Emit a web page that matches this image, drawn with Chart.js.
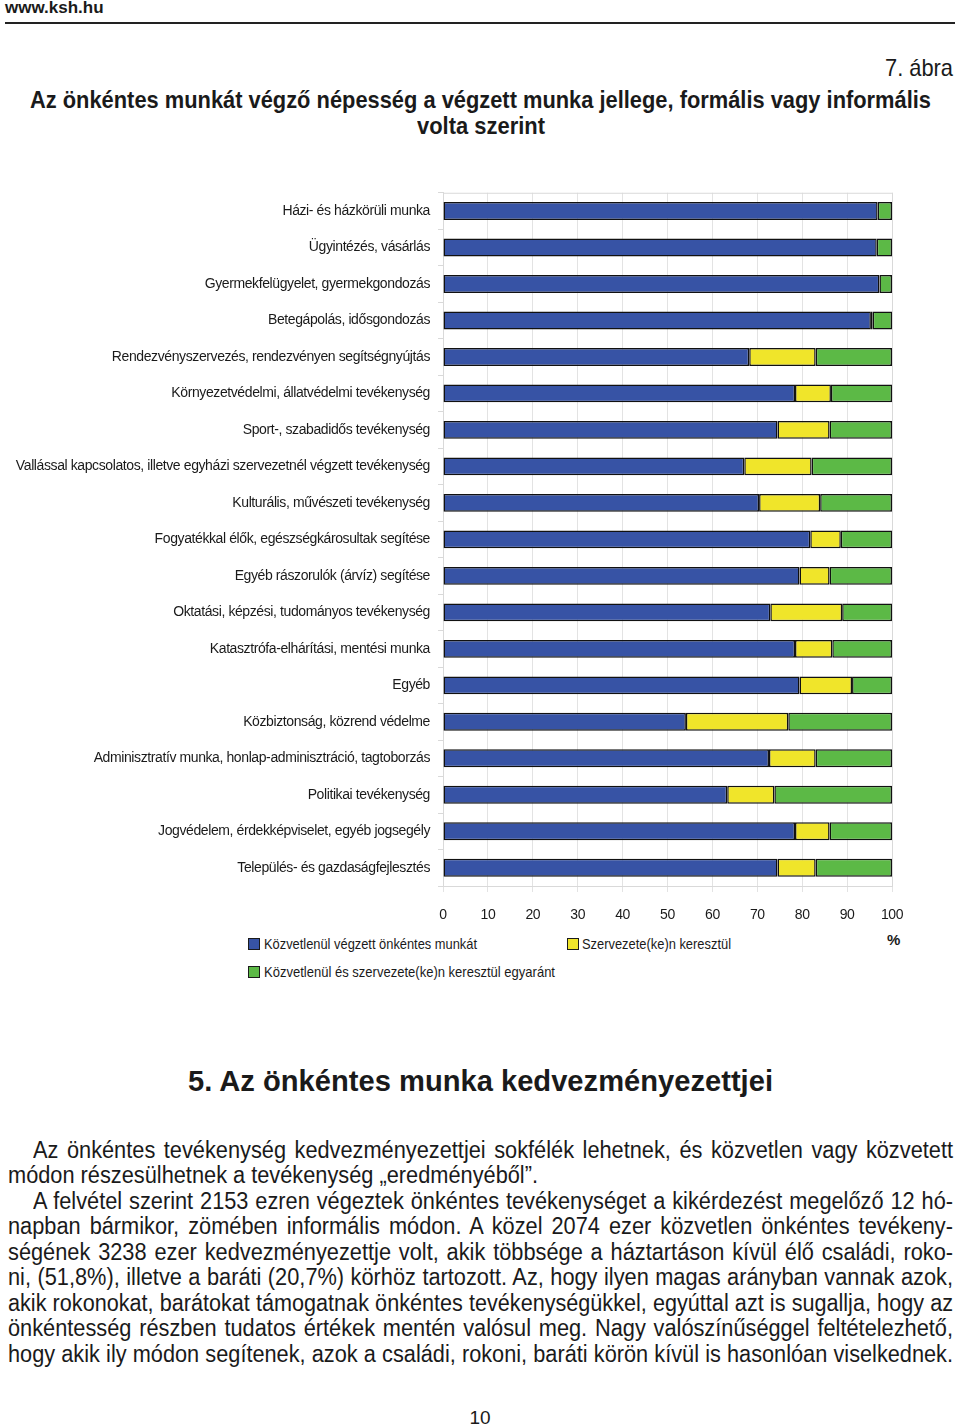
<!DOCTYPE html>
<html lang="hu">
<head>
<meta charset="utf-8">
<script src="https://cdn.jsdelivr.net/npm/chart.js@4.4.1/dist/chart.umd.min.js"></script>
<style>
  html, body { margin:0; padding:0; background:#fff; }
  body { width:960px; height:1426px; position:relative; overflow:hidden; color:#1a1a1a;
         font-family:"Liberation Sans",Arial,sans-serif; }
  .abs { position:absolute; white-space:nowrap; }
  .fit { position:absolute; white-space:nowrap; display:inline-block; transform-origin:0 0; }
  #site { left:5px; top:-2px; font-weight:bold; font-size:17px; }
  #rule { left:5px; top:22px; width:950px; height:2px; background:#222; }
  .title { font-weight:bold; font-size:24px; }
  #chartWrap { position:absolute; left:0; top:180px; width:960px; height:745px; }
  .box { position:absolute; width:10px; height:10px; border:1px solid #1a1a1a; }
  .legt { font-size:15px; line-height:16px; }
  #pct { left:887px; top:931px; font-weight:bold; font-size:15px; }
  #h2 { font-weight:bold; font-size:30px; }
  .ln { position:absolute; left:8px; font-size:23px; line-height:25px; text-align:justify; text-align-last:justify; transform-origin:0 0; }
  .ln.last { text-align-last:left; }
  #page { left:0; width:960px; text-align:center; top:1407px; font-size:19px; }
  #probe { position:absolute; visibility:hidden; white-space:nowrap; font-size:23px; }
</style>
</head>
<body>
<div class="abs" id="site">www.ksh.hu</div>
<div class="abs" id="rule"></div>
<div class="fit" data-x="885" data-w="68" style="top:54px; font-size:24px;">7. ábra</div>
<div class="fit title" data-x="30" data-w="901" style="top:86px">Az önkéntes munkát végző népesség a végzett munka jellege, formális vagy informális</div>
<div class="fit title" data-x="417" data-w="128" style="top:112px">volta szerint</div>

<div id="chartWrap"><canvas id="c" width="960" height="745"></canvas></div>

<div class="box" style="left:248px; top:938px; background:#3753a5"></div>
<div class="fit legt" data-x="264" data-w="213" style="top:936px">Közvetlenül végzett önkéntes munkát</div>
<div class="box" style="left:567px; top:938px; background:#f0e52a"></div>
<div class="fit legt" data-x="582" data-w="149" style="top:936px">Szervezete(ke)n keresztül</div>
<div class="box" style="left:248px; top:966px; background:#5cb946"></div>
<div class="fit legt" data-x="264" data-w="291" style="top:964px">Közvetlenül és szervezete(ke)n keresztül egyaránt</div>
<div class="abs" id="pct">%</div>

<div class="fit" id="h2" data-x="188" data-w="585" style="top:1064px">5. Az önkéntes munka kedvezményezettjei</div>

<div class="ln" data-ind="1" style="top:1138px">Az önkéntes tevékenység kedvezményezettjei sokfélék lehetnek, és közvetlen vagy közvetett</div>
<div class="ln last" style="top:1163px">módon részesülhetnek a tevékenység „eredményéből”.</div>
<div class="ln" data-ind="1" style="top:1189px">A felvétel szerint 2153 ezren végeztek önkéntes tevékenységet a kikérdezést megelőző 12 hó-</div>
<div class="ln" style="top:1214px">napban bármikor, zömében informális módon. A közel 2074 ezer közvetlen önkéntes tevékeny-</div>
<div class="ln" style="top:1240px">ségének 3238 ezer kedvezményezettje volt, akik többsége a háztartáson kívül élő családi, roko-</div>
<div class="ln" style="top:1265px">ni, (51,8%), illetve a baráti (20,7%) körhöz tartozott. Az, hogy ilyen magas arányban vannak azok,</div>
<div class="ln" style="top:1291px">akik rokonokat, barátokat támogatnak önkéntes tevékenységükkel, egyúttal azt is sugallja, hogy az</div>
<div class="ln" style="top:1316px">önkéntesség részben tudatos értékek mentén valósul meg. Nagy valószínűséggel feltételezhető,</div>
<div class="ln" id="l9" style="top:1342px">hogy akik ily módon segítenek, azok a családi, rokoni, baráti körön kívül is hasonlóan viselkednek.</div>
<span id="probe"></span>

<div class="abs" id="page">10</div>

<script>
const categories = [
  "Házi- és házkörüli munka",
  "Ügyintézés, vásárlás",
  "Gyermekfelügyelet, gyermekgondozás",
  "Betegápolás, idősgondozás",
  "Rendezvényszervezés, rendezvényen segítségnyújtás",
  "Környezetvédelmi, állatvédelmi tevékenység",
  "Sport-, szabadidős tevékenység",
  "Vallással kapcsolatos, illetve egyházi szervezetnél végzett tevékenység",
  "Kulturális, művészeti tevékenység",
  "Fogyatékkal élők, egészségkárosultak segítése",
  "Egyéb rászorulók (árvíz) segítése",
  "Oktatási, képzési, tudományos tevékenység",
  "Katasztrófa-elhárítási, mentési munka",
  "Egyéb",
  "Közbiztonság, közrend védelme",
  "Adminisztratív munka, honlap-adminisztráció, tagtoborzás",
  "Politikai tevékenység",
  "Jogvédelem, érdekképviselet, egyéb jogsegély",
  "Település- és gazdaságfejlesztés"
];
const seriesNames = [
  "Közvetlenül végzett önkéntes munkát",
  "Szervezete(ke)n keresztül",
  "Közvetlenül és szervezete(ke)n keresztül egyaránt"
];
const direct = [96.8, 96.6, 97.2, 95.3, 68.2, 78.4, 74.5, 67.1, 70.4, 81.8, 79.4, 72.9, 78.4, 79.4, 54.1, 72.6, 63.3, 78.4, 74.5];
const viaOrg = [0, 0, 0, 0.4, 14.8, 8.0, 11.6, 15.0, 13.6, 6.8, 6.7, 16.0, 8.3, 11.7, 22.8, 10.4, 10.5, 7.7, 8.5];
const both   = [3.2, 3.4, 2.8, 4.3, 17.0, 13.6, 13.9, 17.9, 16.0, 11.4, 13.9, 11.1, 13.3, 8.9, 23.1, 17.0, 26.2, 13.9, 17.0];
const xTicks = [0, 10, 20, 30, 40, 50, 60, 70, 80, 90, 100];

// fit text blocks horizontally (narrow typeface look)
document.querySelectorAll('.fit').forEach(el => {
  const w = el.getBoundingClientRect().width;
  const s = (+el.dataset.w) / w;
  el.style.left = el.dataset.x + 'px';
  el.style.transform = 'scaleX(' + s + ')';
});
(function () {
  const probe = document.getElementById('probe');
  probe.textContent = document.getElementById('l9').textContent;
  const s = 945 / probe.getBoundingClientRect().width;
  document.querySelectorAll('.ln').forEach(el => {
    const ind = el.dataset.ind ? 25 : 0;
    const target = 945 - ind;
    probe.textContent = el.textContent;
    const nat = probe.getBoundingClientRect().width;
    let sc = s, w = target / s;
    if (nat + 2 > w && !el.classList.contains('last')) { sc = target / (nat + 2); w = nat + 2; }
    el.style.left = (8 + ind) + 'px';
    el.style.width = w + 'px';
    el.style.transform = 'scaleX(' + sc + ')';
  });
})();

const FONT = '"Liberation Sans",Arial,sans-serif';
const frame = {
  id: 'frame',
  beforeDraw(chart) { chart.ctx.letterSpacing = '-0.4px'; },
  beforeDatasetsDraw(chart) {
    const a = chart.chartArea, ctx = chart.ctx;
    ctx.save();
    ctx.strokeStyle = '#d9d9d9';
    ctx.lineWidth = 1;
    ctx.strokeRect(a.left + 0.5, a.top + 0.5, a.right - a.left, a.bottom - a.top);
    ctx.restore();
  }
};

const common = { borderColor: '#111', borderWidth: 1.5, borderSkipped: false, categoryPercentage: 1, barPercentage: 0.49 };
new Chart(document.getElementById('c'), {
  type: 'bar',
  data: {
    labels: categories,
    datasets: [
      Object.assign({ label: seriesNames[0], data: direct, backgroundColor: '#3753a5' }, common),
      Object.assign({ label: seriesNames[1], data: viaOrg, backgroundColor: '#f0e52a' }, common),
      Object.assign({ label: seriesNames[2], data: both,   backgroundColor: '#5cb946' }, common)
    ]
  },
  options: {
    indexAxis: 'y',
    responsive: false,
    animation: false,
    layout: { padding: { top: 12.75, right: 68, left: 0, bottom: 0 } },
    plugins: { legend: { display: false }, tooltip: { enabled: false } },
    scales: {
      x: {
        stacked: true, min: 0, max: 100,
        afterBuildTicks(s) { s.ticks = xTicks.map(v => ({ value: v })); },
        afterFit(s) { s.height = 39; },
        grid: { color: '#e3e3e3', tickLength: 6, lineWidth: 1 },
        border: { display: false },
        ticks: { color: '#1a1a1a', padding: 15, font: { family: FONT, size: 14 } }
      },
      y: {
        stacked: true,
        afterFit(s) { s.width = 443; s.paddingTop = 0; s.paddingBottom = 0; },
        grid: { drawOnChartArea: false, color: '#d9d9d9', tickLength: 5, offset: true },
        border: { color: '#d9d9d9' },
        ticks: { color: '#1a1a1a', padding: 8, autoSkip: false, font: { family: FONT, size: 14 } }
      }
    }
  },
  plugins: [frame]
});
</script>
</body>
</html>
